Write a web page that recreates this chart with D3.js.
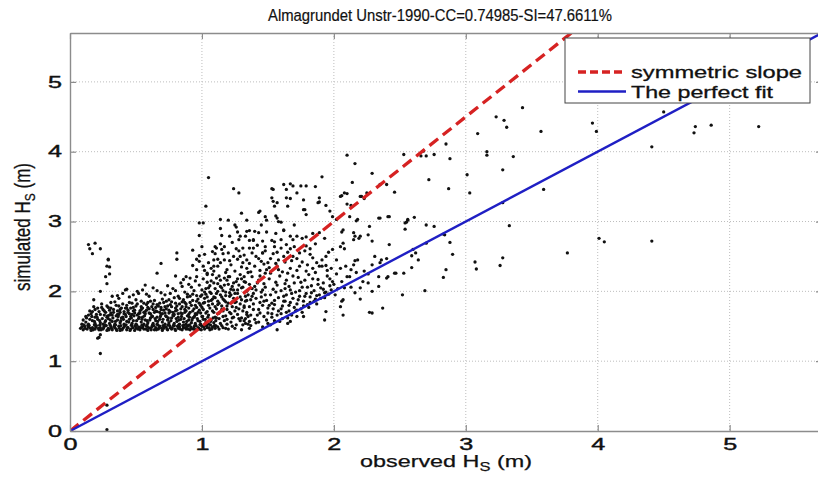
<!DOCTYPE html>
<html>
<head>
<meta charset="utf-8">
<script src="https://cdn.jsdelivr.net/npm/d3@7"></script>
<style>
  body { margin: 0; background: #fff; }
  text { font-family: Arial, "Liberation Sans", Helvetica, sans-serif; fill: #111; }
</style>
</head>
<body>
<div id="chart"></div>
<script>
// axis ticks and reference lines
const xTicks = [0, 1, 2, 3, 4, 5];
const yTicks = [0, 1, 2, 3, 4, 5];
const refLines = [
    { name: "symmetric slope", slope: 1.5 },
    { name: "The perfect fit", slope: 1 }
];

// [observed Hs, simulated Hs] pairs
// the dense floor of the cloud (model never goes much below ~1.45 m)
const floorBand = [
    [0.08,1.47],[0.10,1.45],[0.11,1.50],[0.13,1.46],[0.14,1.49],[0.16,1.44],[0.17,1.48],[0.19,1.46],[0.20,1.51],[0.22,1.45],
    [0.23,1.48],[0.25,1.46],[0.26,1.50],[0.28,1.44],[0.29,1.47],[0.31,1.49],[0.32,1.45],[0.34,1.48],[0.35,1.46],[0.37,1.50],
    [0.38,1.44],[0.40,1.47],[0.41,1.49],[0.43,1.45],[0.44,1.48],[0.46,1.46],[0.47,1.51],[0.49,1.44],[0.50,1.47],[0.52,1.49],
    [0.53,1.45],[0.55,1.48],[0.56,1.46],[0.58,1.50],[0.59,1.44],[0.61,1.47],[0.62,1.49],[0.64,1.45],[0.65,1.48],[0.67,1.46],
    [0.68,1.50],[0.70,1.44],[0.71,1.47],[0.73,1.49],[0.74,1.45],[0.76,1.48],[0.77,1.46],[0.79,1.51],[0.80,1.44],[0.82,1.47],
    [0.83,1.49],[0.85,1.45],[0.86,1.48],[0.88,1.46],[0.89,1.50],[0.91,1.45],[0.92,1.47],[0.94,1.49],[0.95,1.45],[0.97,1.48],
    [0.98,1.46],[1.00,1.50],[1.02,1.46],[1.04,1.48],[1.06,1.45],[1.08,1.49],[1.10,1.47],[1.13,1.46],[1.16,1.48],[1.20,1.46],
    [1.25,1.47],[1.30,1.45],
    [0.09,1.53],[0.12,1.56],[0.14,1.53],[0.17,1.58],[0.19,1.54],[0.21,1.60],[0.23,1.55],[0.25,1.53],[0.27,1.58],[0.29,1.61],
    [0.30,1.54],[0.32,1.57],[0.34,1.53],[0.36,1.59],[0.38,1.55],[0.39,1.62],[0.41,1.53],[0.43,1.57],[0.45,1.60],[0.47,1.54],
    [0.48,1.58],[0.50,1.53],[0.52,1.61],[0.54,1.56],[0.56,1.53],[0.57,1.59],[0.59,1.55],[0.61,1.62],[0.63,1.54],[0.65,1.58],
    [0.66,1.53],[0.68,1.60],[0.70,1.56],[0.72,1.53],[0.74,1.59],[0.75,1.55],[0.77,1.62],[0.79,1.54],[0.81,1.57],[0.83,1.53],
    [0.84,1.60],[0.86,1.56],[0.88,1.53],[0.90,1.59],[0.92,1.55],[0.93,1.62],[0.95,1.54],[0.97,1.58],[0.99,1.53],[1.01,1.60],
    [1.03,1.56],[1.05,1.53],[1.07,1.59],[1.09,1.55],[1.11,1.62],[1.14,1.54],[1.17,1.58],[1.19,1.53],[1.22,1.56],[1.26,1.52],
    [1.29,1.58],[1.33,1.54],[1.37,1.51],
    [0.09,1.49],[0.115,1.47],[0.135,1.51],[0.155,1.47],[0.175,1.45],[0.195,1.49],[0.215,1.47],[0.235,1.45],[0.255,1.48],[0.275,1.51],
    [0.295,1.45],[0.315,1.47],[0.335,1.50],[0.355,1.44],[0.375,1.47],[0.395,1.45],[0.415,1.51],[0.435,1.48],[0.455,1.44],[0.475,1.48],
    [0.495,1.50],[0.515,1.46],[0.535,1.48],[0.555,1.51],[0.575,1.46],[0.595,1.48],[0.615,1.45],[0.635,1.51],[0.655,1.45],[0.675,1.48],
    [0.695,1.47],[0.715,1.50],[0.735,1.46],[0.755,1.51],[0.775,1.48],[0.795,1.46],[0.815,1.50],[0.835,1.46],[0.855,1.51],[0.875,1.48],
    [0.895,1.46],[0.915,1.49],[0.935,1.46],[0.955,1.51],[0.975,1.47],[0.995,1.45],[1.015,1.49],[1.035,1.51],[1.055,1.48],[1.075,1.46],
    [1.095,1.51],[1.12,1.49],[1.15,1.51],[1.18,1.47],[1.23,1.50],
    [0.10,1.59],[0.125,1.62],[0.15,1.60],[0.165,1.64],[0.185,1.57],[0.205,1.63],[0.225,1.58],[0.245,1.61],[0.265,1.56],[0.285,1.65],
    [0.305,1.59],[0.325,1.62],[0.345,1.57],[0.365,1.64],[0.385,1.58],[0.405,1.60],[0.425,1.64],[0.445,1.56],[0.465,1.62],[0.485,1.65],
    [0.505,1.58],[0.525,1.63],[0.545,1.60],[0.565,1.65],[0.585,1.58],[0.605,1.59],[0.625,1.64],[0.645,1.61],[0.665,1.57],[0.685,1.64],
    [0.705,1.60],[0.725,1.65],[0.745,1.62],[0.765,1.58],[0.785,1.65],[0.805,1.61],[0.825,1.59],[0.845,1.64],[0.865,1.61],[0.885,1.57],
    [0.905,1.63],[0.925,1.59],[0.945,1.65],[0.965,1.61],[0.985,1.57],[1.005,1.64],[1.025,1.60],[1.045,1.63],[1.065,1.57],[1.085,1.62],
    [1.105,1.58],[1.13,1.61],[1.16,1.64],[1.19,1.60],[1.23,1.62],[1.28,1.61],[1.32,1.58],
    [0.105,1.52],[0.145,1.51],[0.185,1.52],[0.225,1.515],[0.265,1.52],[0.305,1.515],[0.345,1.52],[0.385,1.51],[0.425,1.52],[0.465,1.515],
    [0.505,1.52],[0.545,1.515],[0.585,1.52],[0.625,1.515],[0.665,1.52],[0.705,1.51],[0.745,1.52],[0.785,1.515],[0.825,1.52],[0.865,1.515],
    [0.905,1.52],[0.945,1.51],[0.985,1.52],[1.025,1.515],[1.065,1.52],[1.105,1.51]
];

// body of the cloud, 1.6 - 2.3 m simulated, x below ~1.4
const midBand = [
    [0.12,1.64],[0.16,1.68],[0.19,1.63],[0.22,1.71],[0.26,1.66],[0.28,1.63],[0.31,1.69],[0.33,1.74],[0.35,1.65],[0.38,1.70],
    [0.40,1.63],[0.42,1.67],[0.44,1.73],[0.46,1.64],[0.49,1.69],[0.51,1.66],[0.53,1.72],[0.55,1.63],[0.57,1.68],[0.60,1.75],
    [0.62,1.65],[0.64,1.70],[0.66,1.63],[0.69,1.67],[0.71,1.73],[0.73,1.64],[0.75,1.69],[0.78,1.66],[0.80,1.72],[0.82,1.63],
    [0.85,1.68],[0.87,1.74],[0.89,1.65],[0.91,1.70],[0.94,1.63],[0.96,1.67],[0.98,1.73],[1.00,1.64],[1.03,1.69],[1.05,1.66],
    [1.08,1.72],[1.10,1.63],[1.12,1.68],[1.15,1.74],[1.18,1.65],[1.21,1.70],[1.24,1.63],[1.27,1.67],[1.31,1.72],[1.35,1.64],
    [0.18,1.78],[0.24,1.82],[0.29,1.77],[0.34,1.85],[0.37,1.79],[0.43,1.76],[0.47,1.83],[0.50,1.88],[0.54,1.78],[0.58,1.81],
    [0.61,1.86],[0.65,1.77],[0.68,1.83],[0.70,1.89],[0.74,1.79],[0.77,1.85],[0.80,1.76],[0.83,1.82],[0.86,1.88],[0.88,1.78],
    [0.91,1.84],[0.95,1.80],[0.97,1.89],[1.00,1.77],[1.02,1.84],[1.05,1.80],[1.07,1.87],[1.10,1.78],[1.13,1.83],[1.16,1.89],
    [1.19,1.79],[1.23,1.85],[1.26,1.77],[1.29,1.82],
    [0.36,1.94],[0.45,1.92],[0.52,1.97],[0.60,1.93],[0.66,2.01],[0.72,1.95],[0.78,2.04],[0.82,1.93],[0.87,1.99],[0.92,2.06],
    [0.96,1.94],[1.00,2.02],[1.03,1.96],[1.06,2.08],[1.09,1.92],[1.12,2.00],[1.15,2.05],[1.18,1.94],[1.22,2.03],[1.25,1.97],
    [1.28,2.09],[0.84,2.12],[0.95,2.15],[1.04,2.13],[1.08,2.24],[1.14,2.16],[1.20,2.21],[1.24,2.12],[1.30,2.18],[1.35,2.27],
    [0.15,1.72],[0.20,1.67],[0.21,1.76],[0.25,1.74],[0.27,1.70],[0.30,1.73],[0.32,1.66],[0.36,1.72],[0.37,1.67],[0.39,1.76],
    [0.41,1.71],[0.43,1.80],[0.45,1.68],[0.46,1.76],[0.48,1.72],[0.50,1.79],[0.52,1.68],[0.54,1.74],[0.56,1.83],[0.57,1.71],
    [0.59,1.77],[0.61,1.68],[0.63,1.74],[0.63,1.82],[0.66,1.71],[0.67,1.79],[0.69,1.74],[0.70,1.68],[0.72,1.78],[0.73,1.86],
    [0.75,1.73],[0.76,1.81],[0.78,1.70],[0.79,1.91],[0.81,1.79],[0.82,1.68],[0.84,1.75],[0.85,1.85],[0.87,1.70],[0.88,1.82],
    [0.90,1.76],[0.91,1.93],[0.93,1.72],[0.93,1.87],[0.95,1.68],[0.96,1.77],[0.98,1.83],[0.99,1.69],[1.00,1.95],[1.01,1.74],
    [1.02,1.90],[1.04,1.71],[1.05,1.86],[1.06,1.76],[1.07,1.97],[1.08,1.82],[1.09,1.70],[1.10,1.91],[1.11,1.75],[1.12,1.86],
    [1.13,1.69],[1.14,1.95],[1.15,1.79],[1.16,1.72],[1.17,1.87],[1.18,1.99],[1.19,1.74],[1.20,1.83],[1.21,1.93],[1.22,1.68],
    [1.23,1.78],[1.24,1.90],[1.25,1.72],[1.26,1.85],[1.27,1.97],[1.28,1.75],[1.30,1.88],[1.32,1.79],[1.33,1.93],[1.34,1.67],
    [0.40,1.97],[0.48,1.95],[0.55,2.02],[0.58,1.96],[0.63,2.05],[0.69,1.98],[0.74,2.08],[0.76,1.97],[0.80,2.01],[0.85,2.07],
    [0.89,1.96],[0.90,2.10],[0.94,2.01],[0.98,2.09],[1.01,2.18],[1.02,1.99],[1.05,2.05],[1.07,2.15],[1.10,2.04],[1.12,2.11],
    [1.13,2.22],[1.16,2.01],[1.17,2.09],[1.19,2.16],[1.21,1.98],[1.23,2.07],[1.26,2.14],[1.27,2.02],[1.29,2.24],[1.31,2.06],
    [1.33,2.13],[1.34,2.00],
    [0.14,1.66],[0.17,1.71],[0.19,1.74],[0.23,1.67],[0.24,1.77],[0.26,1.72],[0.28,1.79],[0.30,1.66],[0.31,1.76],[0.33,1.70],
    [0.35,1.80],[0.36,1.67],[0.38,1.74],[0.40,1.82],[0.41,1.68],[0.42,1.76],[0.44,1.70],[0.45,1.84],[0.47,1.67],[0.48,1.77],
    [0.49,1.73],[0.51,1.82],[0.53,1.69],[0.54,1.86],[0.55,1.76],[0.56,1.70],[0.58,1.73],[0.59,1.84],[0.60,1.69],[0.62,1.78],
    [0.64,1.87],[0.65,1.72],[0.66,1.81],[0.68,1.70],[0.69,1.77],[0.71,1.84],[0.72,1.69],[0.73,1.75],[0.75,1.88],[0.76,1.71],
    [0.77,1.78],[0.79,1.67],[0.80,1.83],[0.81,1.73],[0.83,1.90],[0.84,1.69],[0.85,1.78],[0.87,1.84],[0.88,1.72],[0.89,1.92],
    [0.90,1.67],[0.92,1.80],[0.93,1.96],[0.94,1.75],[0.96,1.86],[0.97,1.70],[0.99,1.80],[0.99,1.93],
    [1.01,1.83],[1.03,2.04],[1.04,1.92],[1.06,1.99],[1.08,1.89],[1.09,2.12],[1.11,1.97],[1.12,1.81],[1.14,2.07],[1.15,1.92],
    [1.17,2.19],[1.18,1.85],[1.20,2.10],[1.22,1.95],[1.24,2.02],[1.25,1.84],[1.27,2.18],[1.29,1.92],[1.30,2.05],[1.32,2.21],
    [1.34,1.87],[1.36,2.10],[1.38,1.93],[1.41,2.02],[1.44,2.22],[1.47,1.86]
];

// right half of the cloud, observed 1.3 - 2.1 m
const rightCloud = [
    [1.31,1.52],[1.33,1.61],[1.34,1.70],[1.36,1.78],[1.37,1.88],[1.39,1.97],[1.40,2.07],[1.32,2.14],[1.38,2.21],[1.41,1.55],
    [1.42,1.66],[1.43,1.74],[1.44,1.84],[1.45,1.92],[1.46,2.02],[1.47,2.11],[1.48,2.26],[1.49,1.59],[1.50,1.69],[1.51,1.80],
    [1.46,1.49],[1.36,1.57],[1.39,1.82],[1.43,2.16],[1.48,1.95],
    [1.52,1.52],[1.53,1.63],[1.54,1.75],[1.55,1.87],[1.56,1.99],[1.57,2.09],[1.58,2.31],[1.59,1.57],[1.60,1.68],[1.61,1.79],
    [1.62,1.93],[1.63,2.04],[1.64,2.16],[1.65,1.62],[1.66,1.72],[1.67,1.84],[1.68,1.97],[1.69,2.22],[1.70,1.77],[1.56,2.40],
    [1.61,2.28],[1.66,2.07],[1.53,1.83],[1.58,1.72],[1.63,1.86],
    [1.72,1.73],[1.73,1.88],[1.74,2.01],[1.75,2.13],[1.77,1.79],[1.78,1.93],[1.79,2.29],[1.80,2.06],[1.82,1.84],[1.83,1.98],
    [1.84,2.18],[1.86,1.89],[1.88,2.10],[1.89,1.95],[1.91,2.36],[1.92,2.03],[1.94,1.99],[1.95,2.22],[1.97,2.08],[1.99,2.14],
    [1.76,1.70],[1.81,1.77],[1.87,1.82],[1.93,1.91],
    [1.67,1.57],[1.57,1.45],[1.36,1.47],[1.77,1.64],[1.94,1.71],[1.93,1.59],[1.65,1.54],[1.72,1.64],[2.07,1.88],
    [1.30,1.62],[1.32,1.77],[1.33,1.86],[1.35,1.53],[1.35,1.95],[1.37,1.66],[1.38,2.04],[1.39,1.74],[1.40,1.60],[1.41,1.90],
    [1.42,2.12],[1.43,1.56],[1.44,1.69],[1.45,1.99],[1.46,1.80],[1.47,1.64],[1.48,2.06],[1.49,1.87],[1.50,1.54],[1.50,1.76],
    [1.51,2.18],[1.52,1.95],[1.53,1.68],[1.54,2.03],[1.55,1.58],[1.55,1.81],[1.56,2.13],[1.57,1.66],[1.58,1.91],[1.59,2.22],
    [1.60,1.75],[1.60,2.01],[1.61,1.61],[1.62,1.86],[1.63,2.11],[1.64,1.70],[1.64,1.95],[1.65,2.26],[1.66,1.80],[1.67,2.02],
    [1.68,1.66],[1.69,1.90],[1.70,2.12],[1.71,1.72],[1.71,1.99],[1.72,1.82],[1.73,2.20],[1.74,1.93],[1.75,1.75],[1.76,2.06],
    [1.77,1.86],[1.78,2.16],[1.79,1.97],[1.80,1.81],[1.81,2.24],[1.82,1.92],[1.83,2.08],[1.85,1.86],[1.85,2.01],[1.86,2.27],
    [1.87,1.94],[1.88,2.17],[1.90,1.90],[1.90,2.05],[1.92,2.12],[1.93,1.98],[1.95,2.30],[1.96,1.96],[1.97,2.18],[1.98,2.02],
    [2.00,2.10],[2.01,1.95],[2.02,2.25],[2.03,2.04]
];

// scattered points above the main cloud, observed below ~2.1 m
const upperScatter = [
    [1.05,3.63],[1.91,3.64],[1.67,3.54],[1.75,3.51],[1.79,3.51],[1.86,3.50],[1.24,3.47],[1.28,3.41],[1.53,3.47],[1.64,3.46],
    [1.72,3.41],[1.54,3.29],[1.57,3.27],[1.55,3.22],[1.67,3.33],[1.89,3.34],[1.89,3.28],[1.94,3.23],[1.77,3.17],[1.79,3.10],
    [1.65,3.22],[1.03,3.22],[1.30,3.12],[1.43,3.13],[1.56,3.08],[1.58,3.00],[1.60,2.99],[1.57,3.05],[1.20,3.02],[1.34,3.02],
    [1.49,3.02],[1.01,2.98],[1.25,2.95],[1.26,2.92],[1.14,2.90],[1.36,2.87],[1.40,2.86],[1.43,2.84],[1.49,2.85],[1.56,2.83],
    [1.62,2.87],[1.72,2.79],[1.79,2.78],[1.84,2.83],[1.29,2.79],[1.28,2.74],[1.36,2.73],[1.39,2.73],[1.46,2.72],[1.53,2.73],
    [1.60,2.74],[1.00,2.64],[1.10,2.64],[1.17,2.64],[1.15,2.60],[1.26,2.61],[1.31,2.62],[1.36,2.62],[1.48,2.64],[1.55,2.64],
    [1.64,2.67],[1.67,2.61],[1.79,2.65],[1.82,2.61],[1.10,2.54],[1.16,2.54],[1.24,2.50],[1.29,2.50],[1.41,2.50],[1.46,2.55],
    [1.54,2.54],[1.62,2.50],[1.69,2.50],[1.74,2.55],[1.82,2.53],[1.94,2.50],[1.99,2.60],[2.05,2.64],[0.98,2.43],[1.09,2.45],
    [1.14,2.41],[1.21,2.44],[1.31,2.41],[1.34,2.45],[1.45,2.43],[1.50,2.41],[1.87,2.41],[1.94,2.37],[2.02,2.45],[1.34,2.33],
    [1.67,2.33],[1.74,2.36],[1.89,2.36],[1.98,2.33],[1.77,3.31],[1.78,3.17],[1.88,3.27],[1.97,3.15],[1.99,3.07],[2.02,3.03],
    [1.44,3.15],[1.48,3.07],[1.62,2.88],[1.67,2.79],[1.69,2.74],[1.76,2.76],[1.89,2.84],[1.93,2.76],[1.21,2.79],[1.34,2.86],
    [1.39,2.74],[1.53,3.34],[1.64,3.34],[1.54,3.46],[1.62,3.53],[1.69,3.51],[0.98,2.98],[1.14,3.03],
    [0.98,2.80],[1.02,2.53],[1.11,2.62],[1.12,2.46],[0.93,2.59],[0.81,2.55],[0.81,2.46],[0.69,2.40],[0.96,2.46],[0.93,2.37],
    [1.01,2.36],[1.07,2.33],[0.14,2.67],[0.19,2.69],[0.15,2.61],[0.23,2.61],[0.17,2.54],[0.29,2.46],[0.28,2.36],[0.30,2.35],
    [0.29,2.45],[0.30,2.25],[0.27,2.21],[0.28,2.11],[0.32,1.93],[0.31,1.84],[0.22,1.34],[0.23,1.11],[0.66,2.26],[0.98,2.51],
    [0.80,2.22],[0.86,2.17],[0.91,2.19],[0.96,2.21],[1.04,2.26],[1.09,2.29],[1.11,2.19],[0.57,2.09],[0.43,2.03],[0.51,2.00],
    [0.18,1.88],[0.23,2.00],[0.88,2.21],[0.96,2.31],[1.04,2.24],[1.09,2.36],[1.19,2.31],[1.21,2.21],[0.42,2.02],[0.37,1.90],
    [0.28,0.37],[0.28,0.02],[0.21,1.33],[0.23,1.38],[1.39,2.62],[1.46,2.55],[1.49,2.31],[1.57,2.36],
    [1.02,2.30],[1.05,2.41],[1.08,2.57],[1.12,2.36],[1.14,2.68],[1.17,2.45],[1.18,2.27],[1.20,2.55],[1.22,2.38],[1.23,2.70],
    [1.25,2.29],[1.27,2.46],[1.28,2.58],[1.30,2.35],[1.32,2.52],[1.33,2.79],[1.36,2.40],[1.37,2.28],[1.38,2.55],[1.40,2.36],
    [1.42,2.66],[1.43,2.47],[1.44,2.30],[1.47,2.39],[1.48,2.58],[1.51,2.34],[1.52,2.47],[1.55,2.71],[1.57,2.56],[1.58,2.45],
    [1.60,2.62],[1.63,2.42],[1.65,2.56],[1.68,2.44],[1.70,2.64],[1.72,2.47],[1.76,2.42],[1.78,2.58],[1.80,2.38],[1.84,2.48],
    [1.86,2.68],[1.91,2.45],[1.96,2.56],[1.72,2.30],[1.84,2.33],[1.52,2.26],[1.27,2.85],[1.45,2.95],[1.70,2.95],[1.15,2.80]
];

// everything with observed Hs above ~2 m
const farScatter = [
    [3.43,4.63],[3.23,4.50],[3.29,4.45],[3.31,4.35],[3.09,4.26],[3.57,4.29],[3.96,4.41],[3.99,4.29],[4.50,4.57],[4.74,4.36],
    [4.73,4.27],[4.86,4.38],[5.22,4.36],[4.41,4.07],[2.85,4.11],[2.88,3.90],[3.16,4.00],[3.16,3.95],[3.36,3.93],[3.01,3.67],
    [3.28,3.74],[2.87,3.47],[3.03,3.41],[3.59,3.46],[3.28,3.27],[3.33,2.94],[4.01,2.76],[4.05,2.71],[4.41,2.72],[2.72,3.60],
    [2.53,3.96],[2.66,3.94],[2.70,3.94],[2.76,3.96],[2.68,4.01],[2.61,3.06],[2.56,3.02],[2.55,2.99],[2.54,2.89],[2.70,2.95],
    [2.76,2.93],[2.83,2.82],[2.88,2.70],[2.70,2.69],[3.77,2.55],[3.07,2.42],[3.08,2.32],[3.28,2.48],[3.26,2.37],[2.90,2.53],
    [2.85,2.31],[2.83,2.20],[2.69,2.01],[2.52,1.95],[2.53,2.26],[2.59,2.34],[2.64,2.45],[2.62,2.55],[2.59,2.51],[2.60,2.60],
    [2.84,2.81],[2.46,3.42],[2.29,3.69],[2.16,3.83],[2.10,3.95],[2.14,3.56],[2.10,3.40],[2.06,3.37],[2.20,3.36],[2.23,3.33],
    [2.35,3.53],[2.10,3.25],[2.13,3.23],[2.17,3.01],[2.34,3.05],[2.42,3.07],[2.27,2.93],[2.06,2.85],[2.07,2.69],[2.16,2.79],
    [2.19,2.76],[2.08,2.61],[2.29,2.72],[2.42,2.67],[2.31,2.50],[2.36,2.45],[2.40,2.47],[2.16,2.44],[2.15,2.38],[2.09,2.36],
    [2.05,2.33],[2.13,2.31],[2.17,2.27],[2.23,2.29],[2.29,2.38],[2.26,2.25],[2.34,2.21],[2.40,2.19],[2.41,2.21],[2.46,2.26],
    [2.10,2.21],[2.06,2.14],[2.08,2.05],[2.13,2.06],[2.20,2.05],[2.26,2.12],[2.29,2.00],[2.34,2.07],[2.06,1.86],[2.20,1.89],
    [2.05,1.78],[2.07,1.66],[2.27,1.70],[2.29,1.69],[2.37,1.76],[2.35,2.41],[2.47,2.26],[2.22,2.14],[2.18,2.45],[2.12,2.21],
    [2.16,1.98],[2.15,2.74],[2.15,2.84],[2.20,2.79],[2.26,2.81],[2.07,2.88],[2.12,3.07],[2.18,3.03],[2.35,3.05],[2.41,3.07],
    [2.54,2.98],[2.56,3.03],[2.08,3.41],[2.05,3.36],[2.21,3.36],[2.25,3.41],[2.40,3.53]
];

var width = 818;
var height = 477;
var plotLeft = 70, plotRight = 822, plotTop = 33, plotBottom = 431;

var svg = d3.select('#chart')
    .append('svg')
    .attr('width', width)
    .attr('height', height);

var x = d3.scaleLinear().domain([0, 5.7]).range([plotLeft, plotRight]);
var y = d3.scaleLinear().domain([0, 5.7]).range([plotBottom, plotTop]);

svg.append('defs').append('clipPath')
    .attr('id', 'plotClip')
    .append('rect')
    .attr('x', plotLeft).attr('y', plotTop)
    .attr('width', plotRight - plotLeft).attr('height', plotBottom - plotTop);

// dotted grid
svg.append('g').selectAll('line')
    .data(xTicks.slice(1))
    .enter().append('line')
    .attr('x1', d => x(d)).attr('x2', d => x(d))
    .attr('y1', plotTop).attr('y2', plotBottom)
    .attr('stroke', '#bdbdbd').attr('stroke-width', 1)
    .attr('stroke-dasharray', '1,2');

svg.append('g').selectAll('line')
    .data(yTicks.slice(1))
    .enter().append('line')
    .attr('x1', plotLeft).attr('x2', plotRight)
    .attr('y1', d => y(d)).attr('y2', d => y(d))
    .attr('stroke', '#bdbdbd').attr('stroke-width', 1)
    .attr('stroke-dasharray', '1,2');

// scatter
var allPoints = [].concat(floorBand, midBand, rightCloud, upperScatter, farScatter);

svg.append('g')
    .attr('clip-path', 'url(#plotClip)')
    .selectAll('circle')
    .data(allPoints)
    .enter()
    .append('circle')
    .attr('cx', d => x(d[0]))
    .attr('cy', d => y(d[1]))
    .attr('r', 1.65)
    .attr('fill', '#111');

// reference lines
var lineColors = ['#d62222', '#1f1fc4'];
var lineG = svg.append('g').attr('clip-path', 'url(#plotClip)');
refLines.forEach(function (l, i) {
    lineG.append('line')
        .attr('x1', x(0)).attr('y1', y(0))
        .attr('x2', x(5.7)).attr('y2', y(5.7 * l.slope))
        .attr('stroke', lineColors[i])
        .attr('stroke-width', i == 0 ? 3.3 : 2.4)
        .attr('stroke-dasharray', i == 0 ? '11,6' : null);
});

// axes box with inward ticks
function styleAxis(g) {
    g.selectAll('path.domain').attr('stroke', '#8c8c8c').attr('stroke-width', 1.4);
    g.selectAll('.tick line').attr('stroke', '#8c8c8c').attr('stroke-width', 1.2);
    g.selectAll('.tick text')
        .style('font-size', '16px')
        .attr('fill', '#111')
        .attr('stroke', '#111')
        .attr('stroke-width', 0.4)
        .attr('textLength', 14)
        .attr('lengthAdjust', 'spacingAndGlyphs');
}

svg.append('g')
    .attr('transform', 'translate(0,' + plotBottom + ')')
    .call(d3.axisBottom(x).tickValues(xTicks).tickSize(-6).tickSizeOuter(0).tickPadding(8).tickFormat(d3.format('d')))
    .call(styleAxis);

svg.append('g')
    .attr('transform', 'translate(0,' + plotTop + ')')
    .call(d3.axisTop(x).tickValues(xTicks).tickSize(-6).tickSizeOuter(0).tickFormat(''))
    .call(styleAxis);

svg.append('g')
    .attr('transform', 'translate(' + plotLeft + ',0)')
    .call(d3.axisLeft(y).tickValues(yTicks).tickSize(-6).tickSizeOuter(0).tickPadding(8).tickFormat(d3.format('d')))
    .call(styleAxis);

svg.append('g')
    .attr('transform', 'translate(' + plotRight + ',0)')
    .call(d3.axisRight(y).tickValues(yTicks).tickSize(-6).tickSizeOuter(0).tickFormat(''))
    .call(styleAxis);

// title
svg.append('text')
    .attr('x', 440).attr('y', 21)
    .attr('text-anchor', 'middle')
    .style('font-size', '17px')
    .attr('stroke', '#111').attr('stroke-width', 0.2)
    .attr('textLength', 344)
    .attr('lengthAdjust', 'spacingAndGlyphs')
    .text('Almagrundet Unstr-1990-CC=0.74985-SI=47.6611%');

// x label
var xl = svg.append('text')
    .attr('x', 446).attr('y', 467)
    .attr('text-anchor', 'middle')
    .style('font-size', '17px')
    .attr('stroke', '#111').attr('stroke-width', 0.25)
    .attr('textLength', 172)
    .attr('lengthAdjust', 'spacingAndGlyphs');
xl.append('tspan').text('observed H');
xl.append('tspan').attr('dy', 4).style('font-size', '12px').text('S');
xl.append('tspan').attr('dy', -4).text(' (m)');

// y label
var yl = svg.append('text')
    .attr('transform', 'translate(30,227) rotate(-90) scale(1,1.25)')
    .attr('text-anchor', 'middle')
    .style('font-size', '17px')
    .attr('stroke', '#111').attr('stroke-width', 0.25);
yl.append('tspan').text('simulated H');
yl.append('tspan').attr('dy', 4).style('font-size', '12px').text('S');
yl.append('tspan').attr('dy', -4).text(' (m)');

// legend
var legend = svg.append('g');
legend.append('rect')
    .attr('x', 565).attr('y', 38)
    .attr('width', 245).attr('height', 65)
    .attr('fill', '#fff')
    .attr('stroke', '#444').attr('stroke-width', 1);

var legendWidths = [171, 142];
refLines.forEach(function (l, i) {
    var ly = 72 + i * 19.5;
    legend.append('line')
        .attr('x1', 578).attr('x2', 626)
        .attr('y1', ly).attr('y2', ly)
        .attr('stroke', lineColors[i])
        .attr('stroke-width', i == 0 ? 3.3 : 2.4)
        .attr('stroke-dasharray', i == 0 ? '8,4' : null);
    legend.append('text')
        .attr('x', 631).attr('y', ly + 6)
        .style('font-size', '17px')
        .attr('stroke', '#111').attr('stroke-width', 0.3)
        .attr('textLength', legendWidths[i])
        .attr('lengthAdjust', 'spacingAndGlyphs')
        .text(l.name);
});
</script>
</body>
</html>
